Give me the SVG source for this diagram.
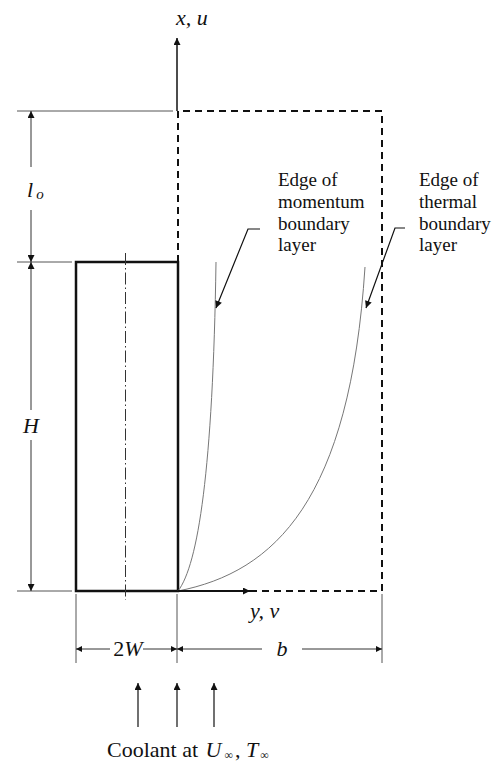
<svg xmlns="http://www.w3.org/2000/svg" width="495" height="761" viewBox="0 0 495 761">
<defs>
<style>
text{font-family:'Liberation Serif','DejaVu Serif','Times New Roman',serif;fill:#111}
.i{font-style:italic}
.dim{stroke:#333;stroke-width:1;fill:none}
.ext{stroke:#555;stroke-width:1;fill:none}
.dash{stroke:#111;stroke-width:2;stroke-dasharray:7 5;fill:none}
.curve{stroke:#777;stroke-width:1;fill:none}
</style>
<marker id="ah" viewBox="0 0 10 10" refX="10" refY="5" markerWidth="8" markerHeight="7" markerUnits="userSpaceOnUse" orient="auto">
<path d="M0,0 L10,5 L0,10 Z" fill="#111"/>
</marker>
<marker id="ahs" viewBox="0 0 10 10" refX="10" refY="5" markerWidth="9" markerHeight="6" markerUnits="userSpaceOnUse" orient="auto">
<path d="M0,0 L10,5 L0,10 Z" fill="#111"/>
</marker>
</defs>
<rect width="495" height="761" fill="#fff"/>

<g id="body">
<rect x="76" y="262" width="102" height="329" fill="none" stroke="#111" stroke-width="2.5"/>
<line x1="125.5" y1="253" x2="125.5" y2="600" stroke="#333" stroke-width="1" stroke-dasharray="12 3 1.5 3"/>
</g>

<g id="domain">
<path class="dash" d="M178,262 V111 H382 V591 H178"/>
</g>

<g id="boundary-layers">
<path class="curve" d="M178,591 C198,565 213,470 216,262"/>
<path class="curve" d="M178,591 C275,572 350,500 365,267"/>
</g>

<g id="connectors">
<line x1="177" y1="111" x2="177" y2="38" stroke="#111" stroke-width="1.5" marker-end="url(#ah)"/>
<line x1="178" y1="591" x2="250" y2="591" stroke="#111" stroke-width="2" marker-end="url(#ah)"/>
<line class="ext" x1="17" y1="111" x2="173" y2="111"/>
<line class="ext" x1="17" y1="262" x2="72" y2="262"/>
<line class="ext" x1="17" y1="591" x2="72" y2="591"/>
<line class="dim" x1="31" y1="167" x2="31" y2="111" marker-end="url(#ah)"/>
<line class="dim" x1="31" y1="210" x2="31" y2="262" marker-end="url(#ah)"/>
<line class="dim" x1="31" y1="410" x2="31" y2="262" marker-end="url(#ah)"/>
<line class="dim" x1="31" y1="440" x2="31" y2="591" marker-end="url(#ah)"/>
<line class="ext" x1="76" y1="594" x2="76" y2="663"/>
<line class="ext" x1="177" y1="594" x2="177" y2="663"/>
<line class="ext" x1="382" y1="594" x2="382" y2="663"/>
<line class="dim" x1="110" y1="649" x2="76" y2="649" marker-end="url(#ahs)"/>
<line class="dim" x1="143" y1="649" x2="177" y2="649" marker-end="url(#ahs)"/>
<line class="dim" x1="262" y1="649" x2="177" y2="649" marker-end="url(#ahs)"/>
<line class="dim" x1="302" y1="649" x2="382" y2="649" marker-end="url(#ahs)"/>
<line x1="138" y1="727" x2="138" y2="683" stroke="#111" stroke-width="1.2" marker-end="url(#ah)"/>
<line x1="177" y1="727" x2="177" y2="683" stroke="#111" stroke-width="1.2" marker-end="url(#ah)"/>
<line x1="214" y1="727" x2="214" y2="683" stroke="#111" stroke-width="1.2" marker-end="url(#ah)"/>
<polyline points="260,229 248,229 216,308" fill="none" stroke="#111" stroke-width="1.2" marker-end="url(#ah)"/>
<polyline points="405,228 395,228 366,308" fill="none" stroke="#111" stroke-width="1.2" marker-end="url(#ah)"/>
</g>

<g id="labels" font-family="'Liberation Serif','DejaVu Serif','Times New Roman',serif">
<text class="i" x="192" y="25" font-size="22" text-anchor="middle">x, u</text>
<text class="i" x="27" y="197" font-size="22">l<tspan font-size="15" dy="2" dx="3">o</tspan></text>
<text class="i" x="31" y="433" font-size="22" text-anchor="middle">H</text>
<text class="i" x="250" y="618" font-size="22">y, v</text>
<text x="128" y="656" font-size="22" text-anchor="middle">2<tspan class="i">W</tspan></text>
<text class="i" x="282" y="656" font-size="22" text-anchor="middle">b</text>
<text x="107" y="757" font-size="22">Coolant at <tspan class="i" dx="2">U</tspan><tspan font-size="12" dy="2" dx="3">∞</tspan><tspan dy="-2" dx="2">, </tspan><tspan class="i">T</tspan><tspan font-size="12" dy="2" dx="2">∞</tspan></text>
<text font-size="19"><tspan x="278" y="186">Edge of</tspan><tspan x="278" y="208">momentum</tspan><tspan x="278" y="230">boundary</tspan><tspan x="278" y="251">layer</tspan></text>
<text font-size="19"><tspan x="419" y="186">Edge of</tspan><tspan x="419" y="208">thermal</tspan><tspan x="419" y="230">boundary</tspan><tspan x="419" y="251">layer</tspan></text>
</g>
</svg>
